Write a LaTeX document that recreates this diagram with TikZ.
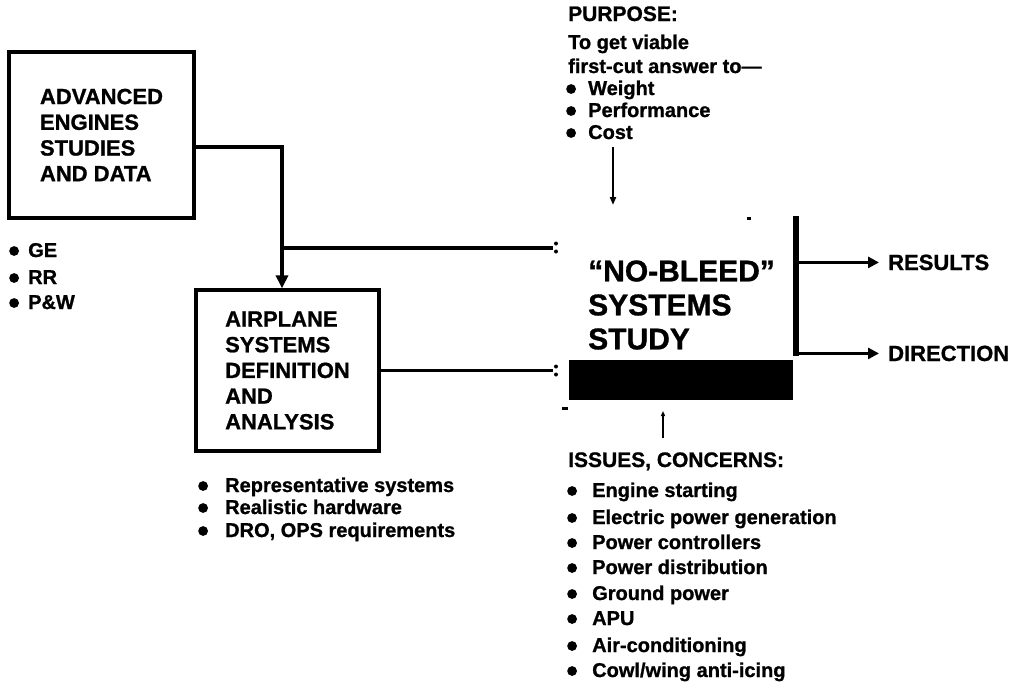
\documentclass[tikz,border=0pt]{standalone}
\usepackage{fontspec}
\setmainfont{Liberation Sans}[BoldFont={Liberation Sans Bold}, BoldFeatures={FakeBold=1}]
\usetikzlibrary{arrows.meta}
\newcommand\bul[1][22pt]{\makebox[#1][l]{\tikz[x=1pt,y=1pt,baseline=0pt]\fill[black] (5,6.0) circle[radius=4.9pt];}}
\tikzset{
  lbl/.style={anchor=base west, inner sep=0pt, font=\bfseries\fontsize{20}{24}\selectfont},
  head/.style={anchor=base west, inner sep=0pt, font=\bfseries\fontsize{21}{25}\selectfont},
  outl/.style={anchor=base west, inner sep=0pt, font=\bfseries\fontsize{22}{26}\selectfont},
  blockbox/.style={draw, line width=3.3pt, align=left, inner sep=0pt,
    font=\bfseries\fontsize{22}{25.7}\selectfont},
  conn/.style={line width=3.3pt},
  bigtip/.style={-{Triangle[length=13pt,width=12pt]}},
  midtip/.style={-{Triangle[length=11pt,width=11pt]}},
}
\begin{document}
\begin{tikzpicture}[x=1pt,y=-1pt]
\useasboundingbox (0,0) rectangle (1016,686);

% boxes
\node[blockbox, minimum width=185pt, minimum height=166pt] (box1) at (101.5,135)
  {ADVANCED\\ENGINES\\STUDIES\\AND DATA};
\node[blockbox, minimum width=183pt, minimum height=161pt] (box2) at (287.5,370.5)
  {AIRPLANE\\SYSTEMS\\DEFINITION\\AND\\ANALYSIS};

% engine makers list
\node[lbl] (ge) at (9,257) {\bul[19pt]GE};
\node[lbl] (rr) at (9,284) {\bul[19pt]RR};
\node[lbl] (pw) at (9,309) {\bul[19pt]P\&W};

% airplane list
\node[lbl] (rep) at (198,492) {\bul[27pt]Representative systems};
\node[lbl] (real) at (198,514) {\bul[27pt]Realistic hardware};
\node[lbl] (dro) at (198,537) {\bul[27pt]DRO, OPS requirements};

% study
\node[anchor=west, inner sep=0pt, align=left, font=\bfseries\fontsize{30}{34}\selectfont] (study) at (588,305)
  {``NO-BLEED''\\SYSTEMS\\STUDY};
\node[fill=black, inner sep=0pt, minimum width=224pt, minimum height=40pt] (bar) at (681,380) {};
\fill (747,216.5) rectangle (751,219.5);
\fill (562,406.5) rectangle (568,409.5);

% connectors from left
\coordinate (bend) at (282,147);
\coordinate (j) at (282,248);
\coordinate (in1) at (553,248);
\draw[conn, bigtip] ([yshift=-12pt]box1.east) -- (bend) -- (bend |- box2.north);
\draw[conn] (j) -- (in1);
\draw[conn] (box2.east) -- (box2.east -| in1) coordinate (in2);
\fill (556,243.5) circle[radius=2pt] (556,251.5) circle[radius=2pt];
\fill (556,366.5) circle[radius=2pt] (556,374.5) circle[radius=2pt];

% outputs
\coordinate (vt) at (796,216);
\coordinate (vb) at (796,356);
\draw[line width=6pt] (vt) -- (vb);
\node[outl] (res) at (888,270) {RESULTS};
\node[outl] (dir) at (888,361) {DIRECTION};
\draw[conn, midtip] (vt |- res.west) -- ([xshift=-9pt]res.west);
\draw[conn, midtip] (vt |- dir.west) -- ([xshift=-9pt]dir.west);

% purpose
\node[head] (purp) at (568,21) {PURPOSE:};
\node[lbl] (p1) at (568,49) {To get viable};
\node[lbl] (p2) at (568,73) {first-cut answer to---};
\node[lbl] (w) at (566,95) {\bul Weight};
\node[lbl] (perf) at (566,117) {\bul Performance};
\node[lbl] (cost) at (566,139) {\bul Cost};
\coordinate (pa) at (613,147);
\coordinate (pb) at (613,205);
\draw[line width=2pt, -{Triangle[length=8pt,width=6pt]}] (pa) -- (pb);

% issues
\coordinate (ia) at (663,438);
\coordinate (ib) at (663,411);
\draw[line width=2pt, -{Triangle[length=5pt,width=4pt]}] (ia) -- (ib);
\node[head] (iss) at (568,467) {ISSUES, CONCERNS:};
\node[lbl] (i1) at (567,497) {\bul[25pt]Engine starting};
\node[lbl] (i2) at (567,524) {\bul[25pt]Electric power generation};
\node[lbl] (i3) at (567,549) {\bul[25pt]Power controllers};
\node[lbl] (i4) at (567,574) {\bul[25pt]Power distribution};
\node[lbl] (i5) at (567,600) {\bul[25pt]Ground power};
\node[lbl] (i6) at (567,625) {\bul[25pt]APU};
\node[lbl] (i7) at (567,652) {\bul[25pt]Air-conditioning};
\node[lbl] (i8) at (567,677) {\bul[25pt]Cowl/wing anti-icing};
\end{tikzpicture}
\end{document}
